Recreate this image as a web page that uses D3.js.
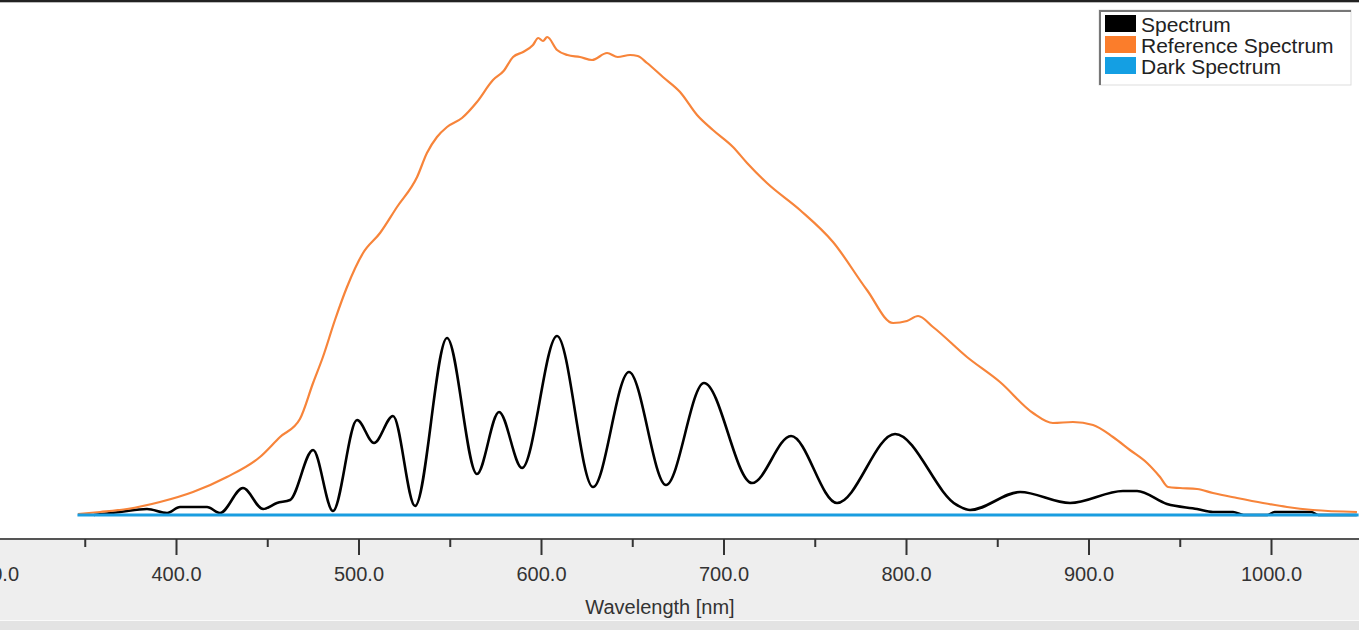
<!DOCTYPE html>
<html>
<head>
<meta charset="utf-8">
<script src="https://cdn.jsdelivr.net/npm/d3@7/dist/d3.min.js"></script>
<style>
  html, body { margin: 0; padding: 0; background: #fff; overflow: hidden; }
  svg { display: block; font-family: "Liberation Sans", Arial, sans-serif; }
</style>
</head>
<body>
<svg id="chart" width="1359" height="630"></svg>
<script>
// wavelength [nm] of each sample
var spectrum_wl = [355, 369.3, 384.1, 395.1, 402.2, 417.0, 424.1, 436.7, 447.7, 455.3, 462.5, 475.1, 486.0,
  499.2, 508.5, 518.9, 531.0, 548.5, 564.9, 577.0, 589.6, 608.8, 628.5, 648.2, 668.5, 689.3, 715.6,
  737.0, 762.2, 794.0, 827.9, 835.1, 862.5, 889.9, 918.9, 926.6, 943.0, 959.5, 968.2, 979.2,
  985, 998, 1002, 1022, 1026, 1047];
var spectrum_counts = [0, 300, 600, 200, 800, 800, 200, 2700, 600, 1200, 1500, 6500, 400,
  9500, 7200, 9900, 900, 17700, 4100, 10300, 4700, 17900, 2800, 14300, 3000, 13200, 3200,
  7900, 1200, 8100, 1000, 500, 2300, 1200, 2400, 2400, 1100, 600, 300, 300,
  0, 0, 300, 300, 0, 0];

var reference_wl = [346.3, 358.4, 373.2, 391.2, 409.3, 427.9, 446.0, 457.0, 467.9, 475.1,
  480.5, 487.1, 493.7, 502.5, 511.8, 521.1, 532.1, 537.5, 543.0, 548.5, 556.7, 564.9, 573.7, 579.5,
  584.7, 590.2, 595.6, 598.5, 601.1, 603.4, 608.8, 614.5, 621.4, 628.0, 636.2, 642.0, 648.8, 653.0,
  658.1, 666.8, 676.2, 685.5, 694.2, 705.2, 712.9, 723.8, 741.9, 760.0, 778.6, 792.9, 800.5, 806.6,
  814.8, 833.4, 851.5, 869.6, 880.5, 891.5, 902.5, 913.4, 922.7, 932.1, 939.2, 943.6, 950.1, 959.5,
  968.2, 981.4, 995.6, 1008.8, 1023.0, 1047.1];
var reference_counts = [100, 300, 600, 1300, 2300, 3800, 5800, 7800, 9600, 13200,
  15800, 19500, 22800, 26200, 28200, 30800, 33800, 36200, 37800, 38800, 39700, 41300, 43500, 44400,
  45800, 46300, 47000, 47700, 47400, 47800, 46500, 46000, 45800, 45500, 46200, 45800, 46000, 45900,
  45200, 43800, 42300, 40000, 38500, 36800, 35200, 33200, 30500, 27300, 22500, 19200, 19400, 19900,
  18800, 15800, 13300, 10200, 9200, 9300, 9000, 7800, 6500, 5200, 3800, 2800, 2700, 2600,
  2200, 1700, 1200, 800, 500, 300];

var dark_wl = [346, 1048];
var dark_counts = [0, 0];

var major_ticks = [300, 400, 500, 600, 700, 800, 900, 1000];
var minor_ticks = [350, 450, 550, 650, 750, 850, 950];

var legend_names = ["Spectrum", "Reference Spectrum", "Dark Spectrum"];
var legend_colors = ["#000000", "#fb7d2b", "#149fe3"];

var width = 1359, height = 630;
var axis_y = 539;

var svg = d3.select("#chart");

var x = d3.scaleLinear()
    .domain([400, 1000])
    .range([176, 1271]);

var y = d3.scaleLinear()
    .domain([0, 50000])
    .range([515, 15]);

// bottom panel and frame
svg.append("rect")
    .attr("x", 0).attr("y", axis_y)
    .attr("width", width).attr("height", height - axis_y)
    .style("fill", "#eeeeee");
svg.append("rect")
    .attr("x", 0).attr("y", 620)
    .attr("width", width).attr("height", 1)
    .style("fill", "#fafafa");
svg.append("rect")
    .attr("x", 0).attr("y", 621)
    .attr("width", width).attr("height", 9)
    .style("fill", "#e3e3e3");
svg.append("rect")
    .attr("x", 0).attr("y", 0)
    .attr("width", width).attr("height", 2)
    .style("fill", "#222");
svg.append("rect")
    .attr("x", 0).attr("y", 2)
    .attr("width", width).attr("height", 1)
    .style("fill", "#bbb");

function series(wl, counts) {
  return wl.map((d, i) => ({wl: d, v: counts[i]}));
}

var line = d3.line()
    .x(d => x(d.wl))
    .y(d => y(d.v))
    .curve(d3.curveMonotoneX);

svg.append("path")
    .datum(series(spectrum_wl, spectrum_counts))
    .attr("d", line)
    .style("fill", "none")
    .style("stroke", legend_colors[0])
    .style("stroke-width", 2.6);

svg.append("path")
    .datum(series(reference_wl, reference_counts))
    .attr("d", line)
    .style("fill", "none")
    .style("stroke", "#f7843a")
    .style("stroke-width", 2.2);

svg.append("path")
    .datum(series(dark_wl, dark_counts))
    .attr("d", line)
    .style("fill", "none")
    .style("stroke", "#1a9de0")
    .style("stroke-width", 3);

// x axis
var axis = svg.append("g")
    .attr("transform", "translate(0," + axis_y + ")");

axis.append("line")
    .attr("x1", 0).attr("x2", width)
    .style("stroke", "#555")
    .style("stroke-width", 2);

axis.append("g")
    .call(d3.axisBottom(x).tickValues(minor_ticks).tickSize(8).tickFormat(""))
    .call(g => g.select(".domain").remove())
    .call(g => g.selectAll("line").style("stroke", "#333").style("stroke-width", 2));

axis.append("g")
    .call(d3.axisBottom(x).tickValues(major_ticks).tickSize(16).tickPadding(12).tickFormat(d3.format(".1f")))
    .call(g => g.select(".domain").remove())
    .call(g => g.selectAll("line").style("stroke", "#333").style("stroke-width", 2))
    .call(g => g.selectAll("text")
        .style("font-family", "'Liberation Sans', Arial, sans-serif")
        .style("font-size", "20px")
        .style("fill", "#333"));

svg.append("text")
    .attr("x", 660)
    .attr("y", 614)
    .attr("text-anchor", "middle")
    .style("font-size", "20px")
    .style("fill", "#333")
    .text("Wavelength [nm]");

// legend
var legend = svg.append("g")
    .attr("transform", "translate(1099,10)");

legend.append("rect")
    .attr("width", 252).attr("height", 75)
    .style("fill", "#fff")
    .style("stroke", "#ddd")
    .style("stroke-width", 1);
legend.append("path")
    .attr("d", "M1,75V1H252")
    .style("fill", "none")
    .style("stroke", "#777")
    .style("stroke-width", 2);

var rows = legend.selectAll(".row")
    .data(legend_names)
    .enter().append("g")
    .attr("class", "row")
    .attr("transform", (d, i) => "translate(6," + (5 + i * 21) + ")");

rows.append("rect")
    .attr("width", 31).attr("height", 17)
    .style("fill", (d, i) => legend_colors[i]);

rows.append("text")
    .attr("x", 36)
    .attr("y", 17)
    .style("font-size", "21px")
    .style("fill", "#222")
    .text(d => d);
</script>
</body>
</html>
